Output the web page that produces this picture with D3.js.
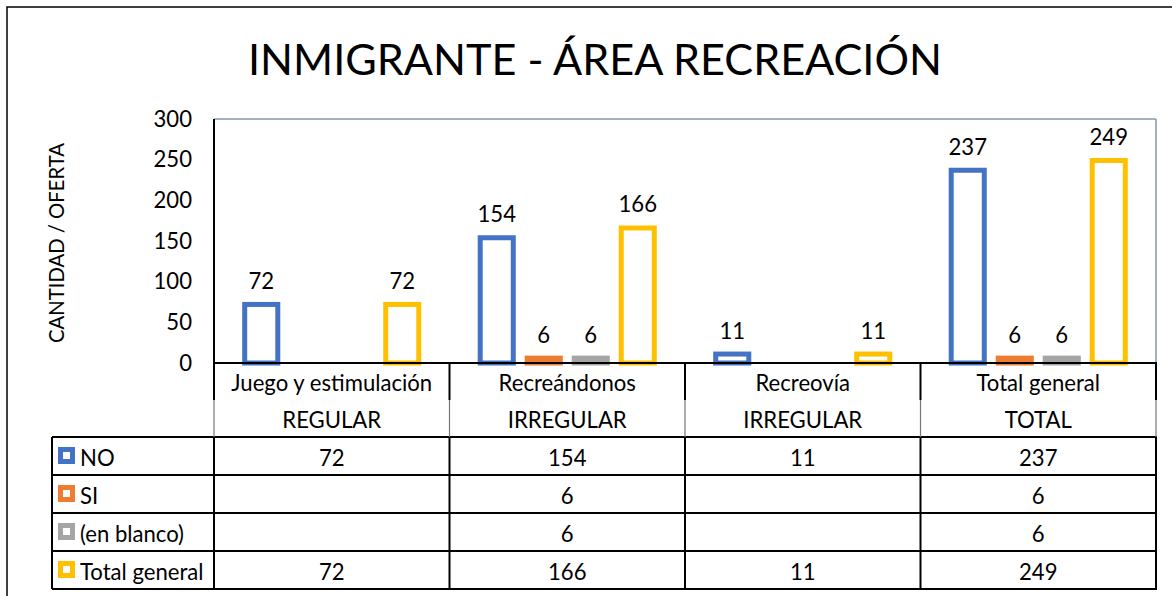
<!DOCTYPE html>
<html><head><meta charset="utf-8">
<script src="https://cdn.jsdelivr.net/npm/d3@7"></script>
<style>
html,body{margin:0;padding:0;background:#fff;}
svg{display:block;font-family:Lato,"Open Sans",sans-serif;}
</style></head>
<body>
<svg id="chart" width="1172" height="596"></svg>
<script>
// ---- data ----
const categories = ["Juego y estimulación","Recreándonos","Recreovía","Total general"];
const subLabels = ["REGULAR","IRREGULAR","IRREGULAR","TOTAL"];
const seriesNames = ["NO","SI","(en blanco)","Total general"];
const valuesNO = [72,154,11,237];
const valuesSI = [null,6,null,6];
const valuesBlank = [null,6,null,6];
const valuesTotal = [72,166,11,249];
const yTicks = [0,50,100,150,200,250,300];
const colors = ["#4472C4","#ED7D31","#A5A5A5","#FFC000"];
const titleText = "INMIGRANTE - ÁREA RECREACIÓN";
const yTitle = "CANTIDAD / OFERTA";

const series = [valuesNO, valuesSI, valuesBlank, valuesTotal];

const svg = d3.select("#chart");
const W = 1172, H = 596;

// layout
const plot = {left:214, right:1156, top:119, bottom:363};
const tableLeft = 52;
const headerRows = [363, 400, 437];
const rowBand = d3.scaleBand().domain(seriesNames).range([437, 589]);

// font calibration
function fitSize(str, target, weight){
  const t = svg.append("text").attr("font-size",100).attr("font-weight",weight||400).text(str);
  const w = t.node().getComputedTextLength();
  t.remove();
  return 100*target/w;
}
const bodySize = fitSize("Juego y estimulación", 201);
const titleSize = fitSize(titleText, 694);
const yTitleSize = fitSize(yTitle, 200);

// outer border
svg.append("rect").attr("x",7).attr("y",7).attr("width",W+20).attr("height",H+20)
  .attr("fill","none").attr("stroke","#000").attr("stroke-width",1.5);

// title
svg.append("text").attr("x",595).attr("y",58).attr("text-anchor","middle")
  .attr("dominant-baseline","central").attr("font-size",titleSize).attr("fill","#000")
  .text(titleText);

// scales
const y = d3.scaleLinear().domain([0,300]).range([plot.bottom, plot.top]);
const x0 = d3.scaleBand().domain(categories).range([plot.left, plot.right]).paddingInner(0).paddingOuter(0);
const x1 = d3.scaleBand().domain(d3.range(4)).range([0, x0.bandwidth()]).paddingInner(0.19).paddingOuter(0.6);

// plot area border
svg.append("line").attr("x1",plot.left).attr("x2",plot.right).attr("y1",plot.top).attr("y2",plot.top)
  .attr("stroke","#8497B0").attr("stroke-width",1.5);
svg.append("line").attr("x1",plot.right).attr("x2",plot.right).attr("y1",plot.top).attr("y2",plot.bottom)
  .attr("stroke","#8497B0").attr("stroke-width",1.5);

// y axis
const yAxis = d3.axisLeft(y).tickValues(yTicks).tickSize(0).tickPadding(22);
const gy = svg.append("g").attr("transform",`translate(${plot.left},0)`).call(yAxis);
gy.select(".domain").remove();
gy.selectAll("text").attr("font-size",bodySize).attr("font-family","Lato").attr("fill","#000");

// y title
svg.append("text").attr("transform",`translate(56,${(plot.top+plot.bottom)/2 + 2}) rotate(-90)`)
  .attr("text-anchor","middle").attr("dominant-baseline","central")
  .attr("font-size",yTitleSize).attr("fill","#000").text(yTitle);

// bars
const sw = 5;
const barData = [];
categories.forEach((c,ci)=>{
  series.forEach((s,si)=>{
    if(s[ci]!=null) barData.push({c, si, v:s[ci]});
  });
});
svg.append("g").selectAll("rect").data(barData).join("rect")
  .attr("x",d=>x0(d.c)+x1(d.si)+sw/2)
  .attr("width",x1.bandwidth()-sw)
  .attr("y",d=>y(d.v))
  .attr("height",d=>y(0)-y(d.v))
  .attr("fill","#fff")
  .attr("stroke",d=>colors[d.si])
  .attr("stroke-width",sw);

// data labels
svg.append("g").selectAll("text").data(barData).join("text")
  .attr("x",d=>x0(d.c)+x1(d.si)+x1.bandwidth()/2)
  .attr("y",d=>y(d.v)-24)
  .attr("text-anchor","middle").attr("dominant-baseline","central")
  .attr("font-size",bodySize).attr("fill","#000")
  .text(d=>d.v);

// table lines
const lines = svg.append("g").attr("stroke","#000").attr("stroke-width",2);
function hl(x1_,x2_,yy,col,w){lines.append("line").attr("x1",x1_).attr("x2",x2_).attr("y1",yy).attr("y2",yy).attr("stroke",col||"#000").attr("stroke-width",w||2);}
function vl(xx,y1_,y2_,col,w){lines.append("line").attr("x1",xx).attr("x2",xx).attr("y1",y1_).attr("y2",y2_).attr("stroke",col||"#000").attr("stroke-width",w||2);}

hl(plot.left, plot.right+1, plot.bottom);
const rowEdges = seriesNames.map(s=>rowBand(s)).concat([rowBand.range()[1]]);
rowEdges.forEach(r=>hl(tableLeft, plot.right+1, r));
vl(tableLeft, rowEdges[0], rowEdges[rowEdges.length-1]);
const colEdges = categories.map(c=>x0(c)).concat([plot.right]);
colEdges.forEach((cx,i)=>{
  if(i===0){
    vl(cx, plot.top, headerRows[1]);
    vl(cx, headerRows[1], headerRows[2], "#777", 1.2);
    vl(cx, headerRows[2], rowEdges[rowEdges.length-1]);
  } else {
    vl(cx, headerRows[0], headerRows[1]);
    vl(cx, headerRows[1], headerRows[2], "#777", 1.2);
    vl(cx, headerRows[2], rowEdges[rowEdges.length-1]);
  }
});

// header texts
svg.append("g").selectAll("text").data(categories).join("text")
  .attr("x",c=>x0(c)+x0.bandwidth()/2).attr("y",382)
  .attr("text-anchor","middle").attr("dominant-baseline","central")
  .attr("font-size",bodySize).attr("fill","#000").text(c=>c);
svg.append("g").selectAll("text").data(subLabels).join("text")
  .attr("x",(s,i)=>x0(categories[i])+x0.bandwidth()/2).attr("y",419)
  .attr("text-anchor","middle").attr("dominant-baseline","central")
  .attr("font-size",bodySize).attr("fill","#000").text(s=>s);

// legend rows
const legend = svg.append("g");
seriesNames.forEach((name,si)=>{
  const cy = rowBand(name)+rowBand.bandwidth()/2;
  legend.append("rect").attr("x",60.5).attr("y",cy-6.5).attr("width",12).attr("height",12)
    .attr("fill","#fff").attr("stroke",colors[si]).attr("stroke-width",5);
  legend.append("text").attr("x",80).attr("y",cy+1).attr("dominant-baseline","central")
    .attr("font-size",bodySize).attr("fill","#000").text(name);
  categories.forEach((c,ci)=>{
    const v = series[si][ci];
    if(v!=null){
      legend.append("text").attr("x",x0(c)+x0.bandwidth()/2).attr("y",cy+1)
        .attr("text-anchor","middle").attr("dominant-baseline","central")
        .attr("font-size",bodySize).attr("fill","#000").text(v);
    }
  });
});
</script>
</body></html>
